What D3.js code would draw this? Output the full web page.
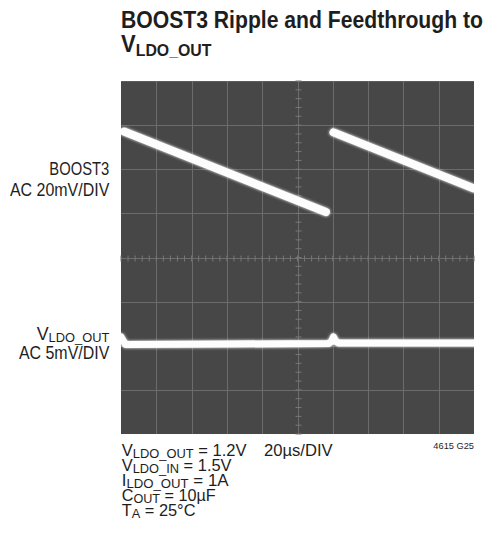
<!DOCTYPE html>
<html><head><meta charset="utf-8">
<script src="https://cdn.jsdelivr.net/npm/d3@7"></script>
<style>html,body{margin:0;padding:0;background:#fff;}svg{display:block;}</style>
</head><body>
<script>
// ---- data ----
const timeGrid = [0, 20, 40, 60, 80, 100, 120, 140, 160, 180, 200]; // µs (20µs/DIV)
const divGrid = [-4, -3, -2, -1, 0, 1, 2, 3, 4];                     // vertical divisions
const boost3Time = [[1.7, 116.1], [120.4, 200]];                      // µs, two ramps
const boost3mV = [[57.1, 20.6], [56.7, 31.3]];                        // mV, 20mV/DIV
const vldoTime = [0, 0.8, 2.5, 60, 117.5, 119.3, 120.4, 121.6, 123.5, 160, 200];
const vldomV   = [1.0, 0.7, 0.15, 0.2, 0.25, 0.5, 1.0, 0.5, 0.3, 0.3, 0.3]; // mV, 5mV/DIV
const channels = [
  {name: "BOOST3", mvPerDiv: 20, offsetDiv: 0},
  {name: "VLDO_OUT", mvPerDiv: 5, offsetDiv: -2}
];

const W = 488, H = 543;
const svg = d3.select("body").append("svg").attr("width", W).attr("height", H);
const FONT = "'Liberation Sans', Arial, sans-serif";

const sx0 = 121, sx1 = 474, sy0 = 81, sy1 = 434;
const x = d3.scaleLinear().domain([0, 200]).range([sx0, sx1]);
const yDiv = d3.scaleLinear().domain([-4, 4]).range([sy1, sy0]);

const defs = svg.append("defs");
const f = defs.append("filter").attr("id", "glow").attr("x", "-20%").attr("y", "-50%").attr("width", "140%").attr("height", "200%");
f.append("feGaussianBlur").attr("in", "SourceGraphic").attr("stdDeviation", 1.6).attr("result", "b");
const m = f.append("feMerge");
m.append("feMergeNode").attr("in", "b");
m.append("feMergeNode").attr("in", "SourceGraphic");
defs.append("clipPath").attr("id", "scr").append("rect")
  .attr("x", sx0).attr("y", sy0).attr("width", sx1 - sx0).attr("height", sy1 - sy0);

// screen
svg.append("rect").attr("x", sx0).attr("y", sy0).attr("width", sx1 - sx0).attr("height", sy1 - sy0).attr("fill", "#474747");
svg.append("line").attr("x1", sx0).attr("x2", sx1).attr("y1", sy0 + 0.5).attr("y2", sy0 + 0.5).attr("stroke", "#5c5c5c");

const grid = svg.append("g").attr("stroke", "#6c6c6c").attr("stroke-width", 1);
grid.selectAll(".v").data(timeGrid.slice(1, -1)).join("line")
  .attr("x1", d => Math.round(x(d)) + 0.5).attr("x2", d => Math.round(x(d)) + 0.5)
  .attr("y1", sy0).attr("y2", sy1);
grid.selectAll(".h").data(divGrid.slice(1, -1)).join("line")
  .attr("y1", d => Math.round(yDiv(d)) + 0.5).attr("y2", d => Math.round(yDiv(d)) + 0.5)
  .attr("x1", sx0).attr("x2", sx1);

const minorT = d3.range(0, 200.01, 4);
const minorD = d3.range(-4, 4.01, 0.2);
const cx = Math.round(x(100)) + 0.5, cy = Math.round(yDiv(0)) + 0.5;
grid.selectAll(".mt").data(minorT).join("line")
  .attr("x1", d => x(d)).attr("x2", d => x(d)).attr("y1", cy - 3).attr("y2", cy + 3).attr("stroke", "#777");
grid.selectAll(".md").data(minorD).join("line")
  .attr("y1", d => yDiv(d)).attr("y2", d => yDiv(d)).attr("x1", cx - 3).attr("x2", cx + 3).attr("stroke", "#777");

// traces
const yCh = (ch, mv) => yDiv(ch.offsetDiv + mv / ch.mvPerDiv);
const line = d3.line().x(d => x(d[0])).y(d => d[1]);
const traces = svg.append("g").attr("clip-path", "url(#scr)").append("g").attr("filter", "url(#glow)")
  .attr("fill", "none").attr("stroke", "#fdfdfd").attr("stroke-linecap", "round");
boost3Time.forEach((ts, i) => {
  const pts = ts.map((t, j) => [t, yCh(channels[0], boost3mV[i][j])]);
  traces.append("path").attr("d", line(pts)).attr("stroke-width", 8);
});
const vpts = vldoTime.map((t, j) => [t, yCh(channels[1], vldomV[j])]);
traces.append("path").attr("d", line(vpts)).attr("stroke-width", 7).attr("stroke-linejoin", "round");

// text helper
function label(parts, px, py, size, weight, anchor, targetW, subScale = 0.75, subDy = 0.2) {
  const g = svg.append("g");
  const t = g.append("text").attr("font-family", FONT).attr("font-size", size)
    .attr("font-weight", weight).attr("fill", "#1e1e1e").attr("text-anchor", anchor);
  let prevSub = false;
  parts.forEach(p => {
    const ts = t.append("tspan").text(p.t);
    if (p.sub) ts.attr("font-size", size * subScale).attr("dy", size * subDy);
    else if (prevSub) ts.attr("dy", -size * subDy);
    prevSub = !!p.sub;
  });
  const w = t.node().getBBox().width;
  const s = targetW ? targetW / w : 1;
  g.attr("transform", `translate(${px},${py}) scale(${s},1)`);
  return g;
}

// title
label([{t: "BOOST3 Ripple and Feedthrough to"}], 121, 27.7, 23.7, "bold", "start", 362);
label([{t: "V"}, {t: "LDO_OUT", sub: true}], 121, 52, 23.7, "bold", "start", 91, 0.72, 0.15);

// channel labels
label([{t: "BOOST3"}], 109.3, 175, 18.5, "normal", "end", 60);
label([{t: "AC 20mV/DIV"}], 109.3, 196, 18.5, "normal", "end", 100);
label([{t: "V"}, {t: "LDO_OUT", sub: true}], 109.3, 339.5, 18.5, "normal", "end", 72.7, 0.72, 0.12);
label([{t: "AC 5mV/DIV"}], 109.3, 358.5, 18.5, "normal", "end", 91);

// conditions
const lh = 15, b0 = 455.5;
label([{t: "V"}, {t: "LDO_OUT", sub: true}, {t: " = 1.2V"}], 121.7, b0, 16.3, "normal", "start", 125, 0.78, 0.17);
label([{t: "20µs/DIV"}], 264, b0 + 0.7, 16.3, "normal", "start", 68.7);
label([{t: "V"}, {t: "LDO_IN", sub: true}, {t: " = 1.5V"}], 121.7, b0 + lh, 16.3, "normal", "start", 110, 0.78, 0.17);
label([{t: "I"}, {t: "LDO_OUT", sub: true}, {t: " = 1A"}], 121.7, b0 + 2 * lh, 16.3, "normal", "start", 107, 0.78, 0.17);
label([{t: "C"}, {t: "OUT", sub: true}, {t: " = 10µF"}], 121.7, b0 + 3 * lh, 16.3, "normal", "start", 94, 0.78, 0.17);
label([{t: "T"}, {t: "A", sub: true}, {t: " = 25°C"}], 121.7, b0 + 4 * lh, 16.3, "normal", "start", 74, 0.78, 0.17);
label([{t: "4615 G25"}], 474, 449, 8.5, "normal", "end", 41);
</script>
</body></html>
